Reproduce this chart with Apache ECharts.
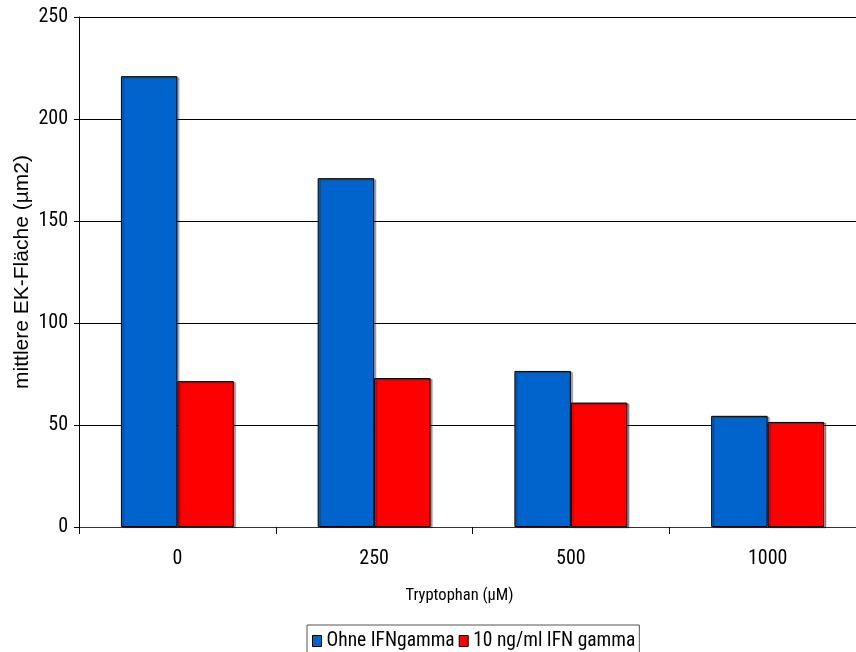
<!DOCTYPE html>
<html>
<head>
<meta charset="utf-8">
<script src="https://cdn.jsdelivr.net/npm/echarts@6/dist/echarts.min.js"></script>
<style>
html,body{margin:0;padding:0;background:#fff;}
#chart{width:856px;height:652px;}
</style>
</head>
<body>
<div id="chart"></div>
<script>
var categories = ['0', '250', '500', '1000'];
var seriesNames = ['Ohne IFNgamma', '10 ng/ml IFN gamma'];
var ohneIFN = [221, 171, 76.5, 54.5];
var mitIFN = [71.5, 73, 61, 51.5];
var xAxisTitle = 'Tryptophan (µM)';
var yAxisTitle = 'mittlere EK-Fläche (µm2)';

var COND = "'Roboto Condensed', 'Liberation Sans', Arial, sans-serif";
var NORMAL = "'Liberation Sans', Arial, sans-serif";

var chart = echarts.init(document.getElementById('chart'), null, {renderer: 'canvas'});
var barShadow = {shadowColor: 'rgba(0,0,0,0.35)', shadowOffsetX: 2, shadowOffsetY: 1, shadowBlur: 1};
chart.setOption({
  animation: false,
  backgroundColor: '#ffffff',
  grid: {left: 79, top: 17, width: 787, height: 510, outerBoundsMode: 'none', containLabel: false},
  legend: {
    left: 307, top: 625,
    padding: [6, 4, 8, 5],
    borderColor: '#555', borderWidth: 1,
    itemWidth: 9, itemHeight: 11, itemGap: 4,
    textStyle: {fontFamily: COND, fontSize: 19.5, color: '#000'},
    data: [
      {name: seriesNames[0], icon: 'rect', itemStyle: {borderColor: '#000', borderWidth: 1}},
      {name: seriesNames[1], icon: 'rect', itemStyle: {borderColor: '#000', borderWidth: 1}}
    ]
  },
  xAxis: {
    type: 'category',
    data: categories,
    name: xAxisTitle,
    nameLocation: 'middle',
    nameGap: 60,
    nameMoveOverlap: false,
    nameTextStyle: {fontFamily: COND, fontSize: 16.5, color: '#000', padding: [0, 26, 0, 0]},
    axisLine: {lineStyle: {color: '#333', width: 1}},
    axisTick: {show: true, length: 7, lineStyle: {color: '#000'}},
    axisLabel: {fontFamily: COND, fontSize: 20, color: '#000', margin: 22}
  },
  yAxis: {
    type: 'value',
    min: 0, max: 250, interval: 50,
    name: yAxisTitle,
    nameLocation: 'middle',
    nameGap: 46,
    nameMoveOverlap: false,
    nameTextStyle: {fontFamily: NORMAL, fontSize: 21, color: '#000'},
    axisLine: {show: true, lineStyle: {color: '#000', width: 1}},
    axisTick: {show: true, length: 5, lineStyle: {color: '#000'}},
    axisLabel: {fontFamily: COND, fontSize: 20, color: '#000', margin: 11},
    splitLine: {show: true, lineStyle: {color: '#000', width: 1}}
  },
  series: [
    {
      name: seriesNames[0], type: 'bar', data: ohneIFN,
      barGap: '0%', barCategoryGap: '42.6%',
      itemStyle: Object.assign({color: '#0064CC', borderColor: '#000', borderWidth: 1}, barShadow)
    },
    {
      name: seriesNames[1], type: 'bar', data: mitIFN,
      barGap: '0%', barCategoryGap: '42.6%',
      itemStyle: Object.assign({color: '#FF0000', borderColor: '#000', borderWidth: 1}, barShadow)
    }
  ]
});
</script>
</body>
</html>
